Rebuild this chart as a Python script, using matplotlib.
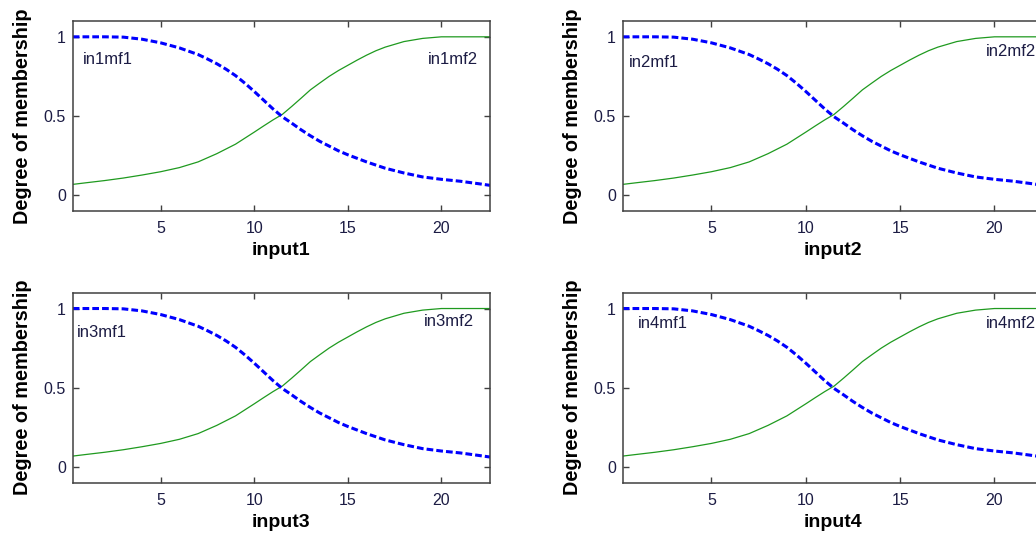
import matplotlib
matplotlib.use("Agg")
import matplotlib.pyplot as plt

plt.rcParams['font.family'] = ['Liberation Sans', 'DejaVu Sans']

# Valores (mesmas funções de pertinência nas 4 entradas)
x_mf1 = [0.3, 1, 2, 3, 4, 5, 6, 7, 7.5, 8, 8.5, 9, 9.5, 10, 10.5, 11, 11.5, 12, 12.5, 13, 13.5,
         14, 14.5, 15, 16, 17, 18, 19, 20, 21, 22, 22.6]
y_mf1 = [1.0, 1.0, 1.0, 0.998, 0.985, 0.962, 0.93, 0.888, 0.86, 0.83, 0.795, 0.755, 0.707, 0.655,
         0.6, 0.545, 0.495, 0.455, 0.413, 0.375, 0.34, 0.31, 0.28, 0.255, 0.21, 0.17, 0.14, 0.115,
         0.1, 0.088, 0.072, 0.062]

x_mf2 = [0.3, 1, 2, 3, 4, 5, 6, 7, 8, 9, 9.5, 10, 10.5, 11, 11.5, 12, 12.5, 13, 13.5, 14, 14.5,
         15, 15.5, 16, 16.5, 17, 18, 19, 20, 21, 22.6]
y_mf2 = [0.068, 0.078, 0.092, 0.108, 0.127, 0.148, 0.174, 0.21, 0.262, 0.322, 0.36, 0.398, 0.437,
         0.475, 0.51, 0.56, 0.612, 0.665, 0.708, 0.75, 0.787, 0.82, 0.853, 0.884, 0.912, 0.935,
         0.97, 0.99, 1.0, 1.0, 1.0]

inputs = ["input1", "input2", "input3", "input4"]
mf1_names = ["in1mf1", "in2mf1", "in3mf1", "in4mf1"]
mf2_names = ["in1mf2", "in2mf2", "in3mf2", "in4mf2"]

# Posição dos eixos (fração da figura) e dos rótulos das curvas (fração dos eixos)
axes_pos = [
    [0.0702, 0.6049, 0.4028, 0.3558],
    [0.6011, 0.6049, 0.4062, 0.3558],
    [0.0702, 0.0961, 0.4028, 0.3558],
    [0.6011, 0.0961, 0.4062, 0.3558],
]
mf1_pos = [(0.025, 0.795), (0.015, 0.784), (0.010, 0.788), (0.036, 0.84)]
mf2_pos = [(0.971, 0.795, 'right'), (0.863, 0.837, 'left'), (0.842, 0.846, 'left'), (0.863, 0.84, 'left')]

text_color = '#1c1c44'
fig = plt.figure(figsize=(10.36, 5.34), dpi=100)

for i in range(4):
    ax = fig.add_axes(axes_pos[i])
    ax.plot(x_mf2, y_mf2, color='#1f9a1f', lw=0.9)
    ax.plot(x_mf1, y_mf1, color='#0000ff', lw=2.2, linestyle=(0, (2.2, 1.0)))

    ax.set_xlim(0.3, 22.6)
    ax.set_ylim(-0.1, 1.1)
    ax.set_xticks([5, 10, 15, 20])
    ax.set_yticks([0, 0.5, 1])
    ax.set_yticklabels(['0', '0.5', '1'])

    ax.tick_params(direction='in', length=4, width=1, color='#404040',
                   top=True, right=True, labelsize=11.5, labelcolor=text_color)
    ax.tick_params(axis='x', pad=7.5)
    ax.tick_params(axis='y', pad=5)
    for s in ax.spines.values():
        s.set_color('#404040')
        s.set_linewidth(1.1)

    ax.set_xlabel(inputs[i], fontsize=14, fontweight='bold', color='black')
    ax.xaxis.set_label_coords(0.5, -0.165)
    ax.set_ylabel("Degree of membership", fontsize=14.3, fontweight='bold', color='black')
    ax.yaxis.set_label_coords(-0.097, 0.5)

    ax.text(mf1_pos[i][0], mf1_pos[i][1], mf1_names[i], transform=ax.transAxes,
            ha='left', va='center', fontsize=12, color=text_color)
    ax.text(mf2_pos[i][0], mf2_pos[i][1], mf2_names[i], transform=ax.transAxes,
            ha=mf2_pos[i][2], va='center', fontsize=12, color=text_color, clip_on=False)

fig.savefig("out.png", dpi=100)
